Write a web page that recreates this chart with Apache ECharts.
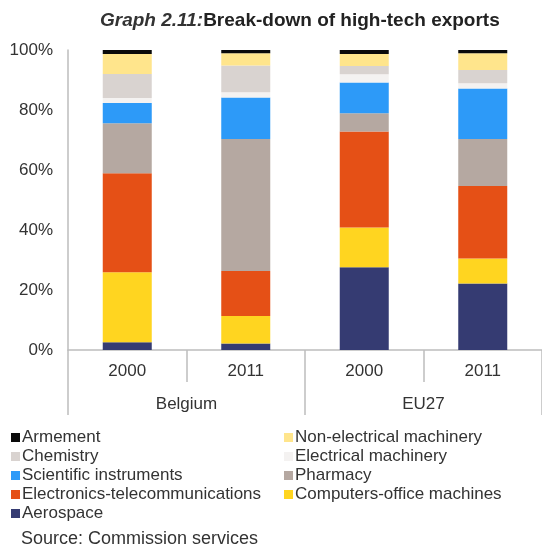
<!DOCTYPE html>
<html>
<head>
<meta charset="utf-8">
<script src="https://cdn.jsdelivr.net/npm/echarts@6/dist/echarts.min.js"></script>
<style>
  html, body { margin: 0; padding: 0; background: #fff; }
  #main { width: 542px; height: 547px; }
</style>
</head>
<body>
<div id="main"></div>
<script>
// categories
var years = ['2000', '2011', '2000', '2011'];
var regions = ['Belgium', 'EU27'];
var yTicks = [0, 20, 40, 60, 80, 100];

// shares in % (Belgium 2000, Belgium 2011, EU27 2000, EU27 2011)
var aerospace     = [2.6, 2.2, 27.6, 22.2];
var computers     = [23.3, 9.1, 13.2, 8.3];
var electronics   = [33.0, 15.0, 32.0, 24.2];
var pharmacy      = [16.7, 44.0, 6.1, 15.6];
var scientific    = [6.7, 13.9, 10.3, 16.9];
var electrical    = [1.7, 1.7, 2.7, 1.7];
var chemistry     = [8.0, 8.9, 2.8, 4.4];
var nonElectrical = [6.7, 4.1, 4.0, 5.6];
var armement      = [1.3, 1.1, 1.3, 1.1];

var legendLeft  = ['Armement', 'Chemistry', 'Scientific instruments', 'Electronics-telecommunications', 'Aerospace'];
var legendRight = ['Non-electrical machinery', 'Electrical machinery', 'Pharmacy', 'Computers-office machines'];

// stacking order, bottom to top
var stack = [
    ['Aerospace', aerospace, '#353b72'],
    ['Computers-office machines', computers, '#ffd520'],
    ['Electronics-telecommunications', electronics, '#e55016'],
    ['Pharmacy', pharmacy, '#b5a8a1'],
    ['Scientific instruments', scientific, '#2d9af8'],
    ['Electrical machinery', electrical, '#f4f2f1'],
    ['Chemistry', chemistry, '#d9d3d0'],
    ['Non-electrical machinery', nonElectrical, '#ffe58c'],
    ['Armement', armement, '#0a0a0a']
];

var font = 'Liberation Sans, Arial, sans-serif';
var txt = '#333';
var axisGrey = '#bdbdbd';

var chart = echarts.init(document.getElementById('main'));

var series = stack.map(function (s) {
    return {
        name: s[0],
        type: 'bar',
        stack: 'total',
        barWidth: 49,
        data: s[1],
        itemStyle: { color: s[2] }
    };
});

var legendCommon = {
    orient: 'vertical',
    top: 429,
    padding: 0,
    itemWidth: 9,
    itemHeight: 9,
    itemGap: 2,
    icon: 'rect',
    selectedMode: false,
    textStyle: { fontFamily: font, fontSize: 17, color: txt, padding: [0, 0, 0, -3] }
};

var option = {
    animation: false,
    backgroundColor: '#fff',
    title: [{
        text: '{i|Graph 2.11:}{b|Break-down of high-tech exports}',
        left: 100,
        top: 11,
        padding: 0,
        textStyle: {
            rich: {
                i: { fontFamily: font, fontSize: 19, fontStyle: 'italic', color: txt },
                b: { fontFamily: font, fontSize: 19, fontWeight: 'bold', color: '#222' }
            }
        }
    }, {
        text: 'Source: Commission services',
        left: 21,
        top: 530,
        padding: 0,
        textStyle: { fontFamily: font, fontSize: 18, fontWeight: 'normal', color: txt }
    }],
    legend: [
        Object.assign({ left: 11, data: legendLeft }, legendCommon),
        Object.assign({ left: 284, data: legendRight }, legendCommon)
    ],
    grid: { left: 68, top: 50, width: 480, height: 300 },
    xAxis: [{
        type: 'category',
        data: years,
        position: 'bottom',
        axisLine: { lineStyle: { color: axisGrey, width: 1.5 } },
        axisTick: { show: true, length: 32, lineStyle: { color: axisGrey, width: 1.5 } },
        axisLabel: { margin: 13, fontFamily: font, fontSize: 17, color: txt }
    }, {
        type: 'category',
        data: regions,
        position: 'bottom',
        axisLine: { show: false },
        axisTick: { show: true, length: 65, lineStyle: { color: axisGrey, width: 1.5 } },
        axisLabel: { margin: 46, fontFamily: font, fontSize: 17, color: txt }
    }],
    yAxis: {
        type: 'value',
        min: yTicks[0],
        max: yTicks[yTicks.length - 1],
        interval: 20,
        axisLine: { show: true, lineStyle: { color: axisGrey, width: 1.5 } },
        axisTick: { show: false },
        splitLine: { show: false },
        axisLabel: { margin: 15, fontFamily: font, fontSize: 17, color: txt, formatter: '{value}%' }
    },
    series: series
};

chart.setOption(option);
</script>
</body>
</html>
